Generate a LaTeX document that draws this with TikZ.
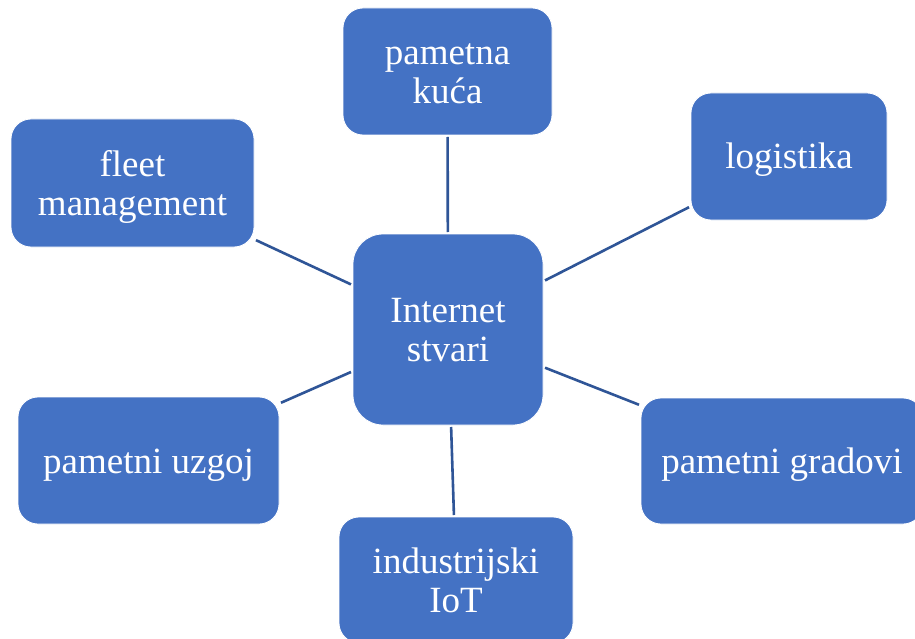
\documentclass[tikz,border=0pt]{standalone}
\usepackage{fontspec}
\setmainfont{Liberation Serif}
\definecolor{boxblue}{HTML}{4472C4}
\definecolor{linkblue}{HTML}{2F5597}
\newcommand{\mytwo}[2]{\begin{tabular}[b]{@{}c@{}}#1\\#2\end{tabular}}
\begin{document}
\begin{tikzpicture}[x=1pt,y=1pt,
  boxnode/.style={rounded corners=20pt, fill=boxblue, draw=white, line width=0.8pt,
    text=white, font=\fontsize{37}{39}\selectfont, inner sep=0pt, outer sep=2pt,
    text height=25pt, text depth=0pt, align=center},
  twolines/.style={text height=64pt},
  link/.style={draw=linkblue, line width=2.6pt}]
\useasboundingbox (0,0) rectangle (915,-639);
\fill[white] (0,0) rectangle (915,-639);
\node[boxnode, minimum width=190pt, minimum height=191pt, rounded corners=30pt, twolines] (iot) at (448,-329.5) {\mytwo{Internet}{stvari}};
\node[boxnode, minimum width=209pt, minimum height=127pt, twolines] (kuca) at (447.5,-71.5) {\mytwo{pametna}{kuća}};
\node[boxnode, minimum width=196pt, minimum height=127pt] (log) at (789,-156.5) {logistika};
\node[boxnode, minimum width=243pt, minimum height=128pt, twolines] (fleet) at (132.5,-183) {\mytwo{fleet}{management}};
\node[boxnode, minimum width=261pt, minimum height=127pt] (uzgoj) at (148.5,-460.5) {pametni uzgoj};
\node[boxnode, minimum width=282pt, minimum height=126pt] (grad) at (782,-461) {pametni gradovi};
\node[boxnode, minimum width=234pt, minimum height=126pt, twolines] (ind) at (456,-580) {\mytwo{industrijski}{IoT}};
\draw[link] (iot) -- (kuca);
\draw[link] (iot) -- (log);
\draw[link] (iot) -- (fleet);
\draw[link] (iot) -- (uzgoj);
\draw[link] (iot) -- (grad);
\draw[link] (iot) -- (ind);
\end{tikzpicture}
\end{document}
